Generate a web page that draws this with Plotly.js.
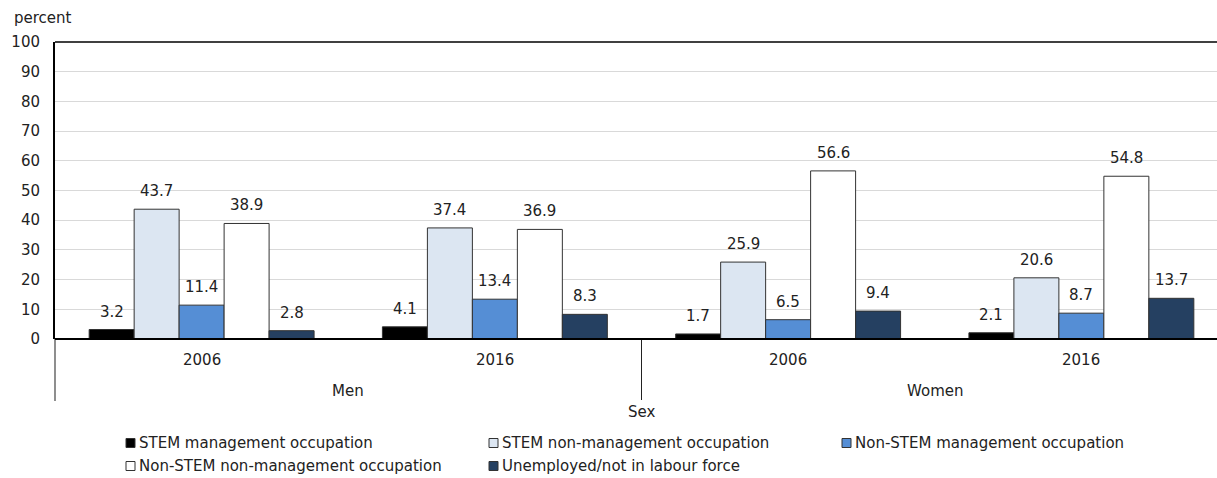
<!DOCTYPE html>
<html>
<head>
<meta charset="utf-8">
<script src="https://cdn.plot.ly/plotly-3.0.1.min.js"></script>
<style>html,body{margin:0;padding:0;background:#fff;overflow:hidden;}#chart{width:1240px;height:478px;}</style>
</head>
<body>
<div id="chart"></div>
<script>
const categories = ["Men 2006", "Men 2016", "Women 2006", "Women 2016"];
const yearLabels = ["2006", "2016", "2006", "2016"];
const sexLabels = ["Men", "Women"];
const seriesNames = [
  "STEM management occupation",
  "STEM non-management occupation",
  "Non-STEM management occupation",
  "Non-STEM non-management occupation",
  "Unemployed/not in labour force"
];
const stemMgmt = [3.2, 4.1, 1.7, 2.1];
const stemNonMgmt = [43.7, 37.4, 25.9, 20.6];
const nonStemMgmt = [11.4, 13.4, 6.5, 8.7];
const nonStemNonMgmt = [38.9, 36.9, 56.6, 54.8];
const unemployed = [2.8, 8.3, 9.4, 13.7];
const yTicks = [0, 10, 20, 30, 40, 50, 60, 70, 80, 90, 100];

const seriesValues = [stemMgmt, stemNonMgmt, nonStemMgmt, nonStemNonMgmt, unemployed];
const colors = ["#000000", "#dce6f2", "#558ed5", "#ffffff", "#254061"];
const FONT = "DejaVu Sans, Verdana, sans-serif";
const FS = 15;
const TXT = "#222222";
const BARGAP = 0.233;

// figure geometry (the plot area runs past the right edge of the window, as in the source)
const W = 1240, H = 478, L = 55, T = 42, B = 139, R = 12;
const pw = W - L - R, ph = H - T - B;
const px2x = px => (px - L) / pw;
const py2y = py => (H - B - py) / ph;

const traces = seriesValues.map((vals, i) => ({
  type: "bar",
  name: seriesNames[i],
  x: categories,
  y: vals,
  marker: {color: colors[i], line: {color: "#333333", width: 1}},
  showlegend: false,
  hoverinfo: "skip"
}));

const font = {family: FONT, size: FS, color: TXT};
const annotations = [];

// value labels above each bar, positioned in data coordinates
const nS = seriesValues.length;
const bw = (1 - BARGAP) / nS;
seriesValues.forEach((vals, j) => {
  vals.forEach((v, i) => {
    annotations.push({
      x: i + (j - (nS - 1) / 2) * bw, xref: "x", y: v, yref: "y",
      text: v.toFixed(1), showarrow: false, yanchor: "bottom", xanchor: "center",
      yshift: 7, font: font
    });
  });
});

// year labels
categories.forEach((c, i) => {
  annotations.push({x: i, xref: "x", y: 0, yref: "paper", yshift: -21, text: yearLabels[i],
    showarrow: false, font: font, yanchor: "middle", xanchor: "center"});
});
// sex labels (centred on each pair of groups)
sexLabels.forEach((s, k) => {
  annotations.push({x: 2 * k + 0.5, xref: "x", y: 0, yref: "paper", yshift: -52, text: s,
    showarrow: false, font: font, yanchor: "middle", xanchor: "center"});
});
annotations.push({x: 1.5, xref: "x", y: 0, yref: "paper", yshift: -73, text: "Sex",
  showarrow: false, font: font, yanchor: "middle", xanchor: "center"});
annotations.push({x: px2x(12), xref: "paper", y: py2y(18), yref: "paper", text: "percent",
  showarrow: false, font: font, yanchor: "middle", xanchor: "left"});

const shapes = [
  {type: "line", xref: "paper", yref: "paper", x0: 0, x1: 1, y0: 1, y1: 1, line: {color: "#000", width: 1.5}},
  {type: "line", xref: "paper", yref: "paper", x0: 0, x1: 0, y0: 0, y1: py2y(401), line: {color: "#444", width: 1.2}},
  {type: "line", xref: "x", yref: "paper", x0: 1.5, x1: 1.5, y0: 0, y1: py2y(400), line: {color: "#222", width: 1}},
  {type: "line", xref: "paper", yref: "paper", x0: 0, x1: 1, y0: 0, y1: 0, line: {color: "#000", width: 2}}
];

// legend (drawn in pixel layout positions)
const legendPos = [[126, 443], [489, 443], [842, 443], [126, 466], [489, 466]];
seriesNames.forEach((name, i) => {
  const [lx, ly] = legendPos[i];
  shapes.push({type: "rect", xref: "paper", yref: "paper",
    x0: px2x(lx), x1: px2x(lx + 9), y0: py2y(ly - 4.5), y1: py2y(ly + 4.5),
    fillcolor: colors[i], line: {color: "#333", width: 1}});
  annotations.push({x: px2x(lx + 11), xref: "paper", y: py2y(ly), yref: "paper", text: name,
    showarrow: false, font: font, xanchor: "left", yanchor: "middle"});
});

const layout = {
  width: W, height: H,
  margin: {l: L, r: R, t: T, b: B},
  paper_bgcolor: "#fff", plot_bgcolor: "#fff",
  barmode: "group", bargap: BARGAP, bargroupgap: 0,
  showlegend: false,
  font: font,
  xaxis: {type: "category", showticklabels: false, ticks: "", showgrid: false, zeroline: false, showline: false,
    range: [-0.5, 3.5], fixedrange: true},
  yaxis: {range: [0, 100], tickvals: yTicks, ticktext: yTicks.map(String), showgrid: true, gridcolor: "#d9d9d9", gridwidth: 1,
    zeroline: false, showline: true, linecolor: "#000", linewidth: 2, ticks: "", ticklabelstandoff: 10,
    tickfont: font, fixedrange: true},
  annotations: annotations,
  shapes: shapes
};

Plotly.newPlot("chart", traces, layout, {displayModeBar: false, staticPlot: true});
</script>
</body>
</html>
